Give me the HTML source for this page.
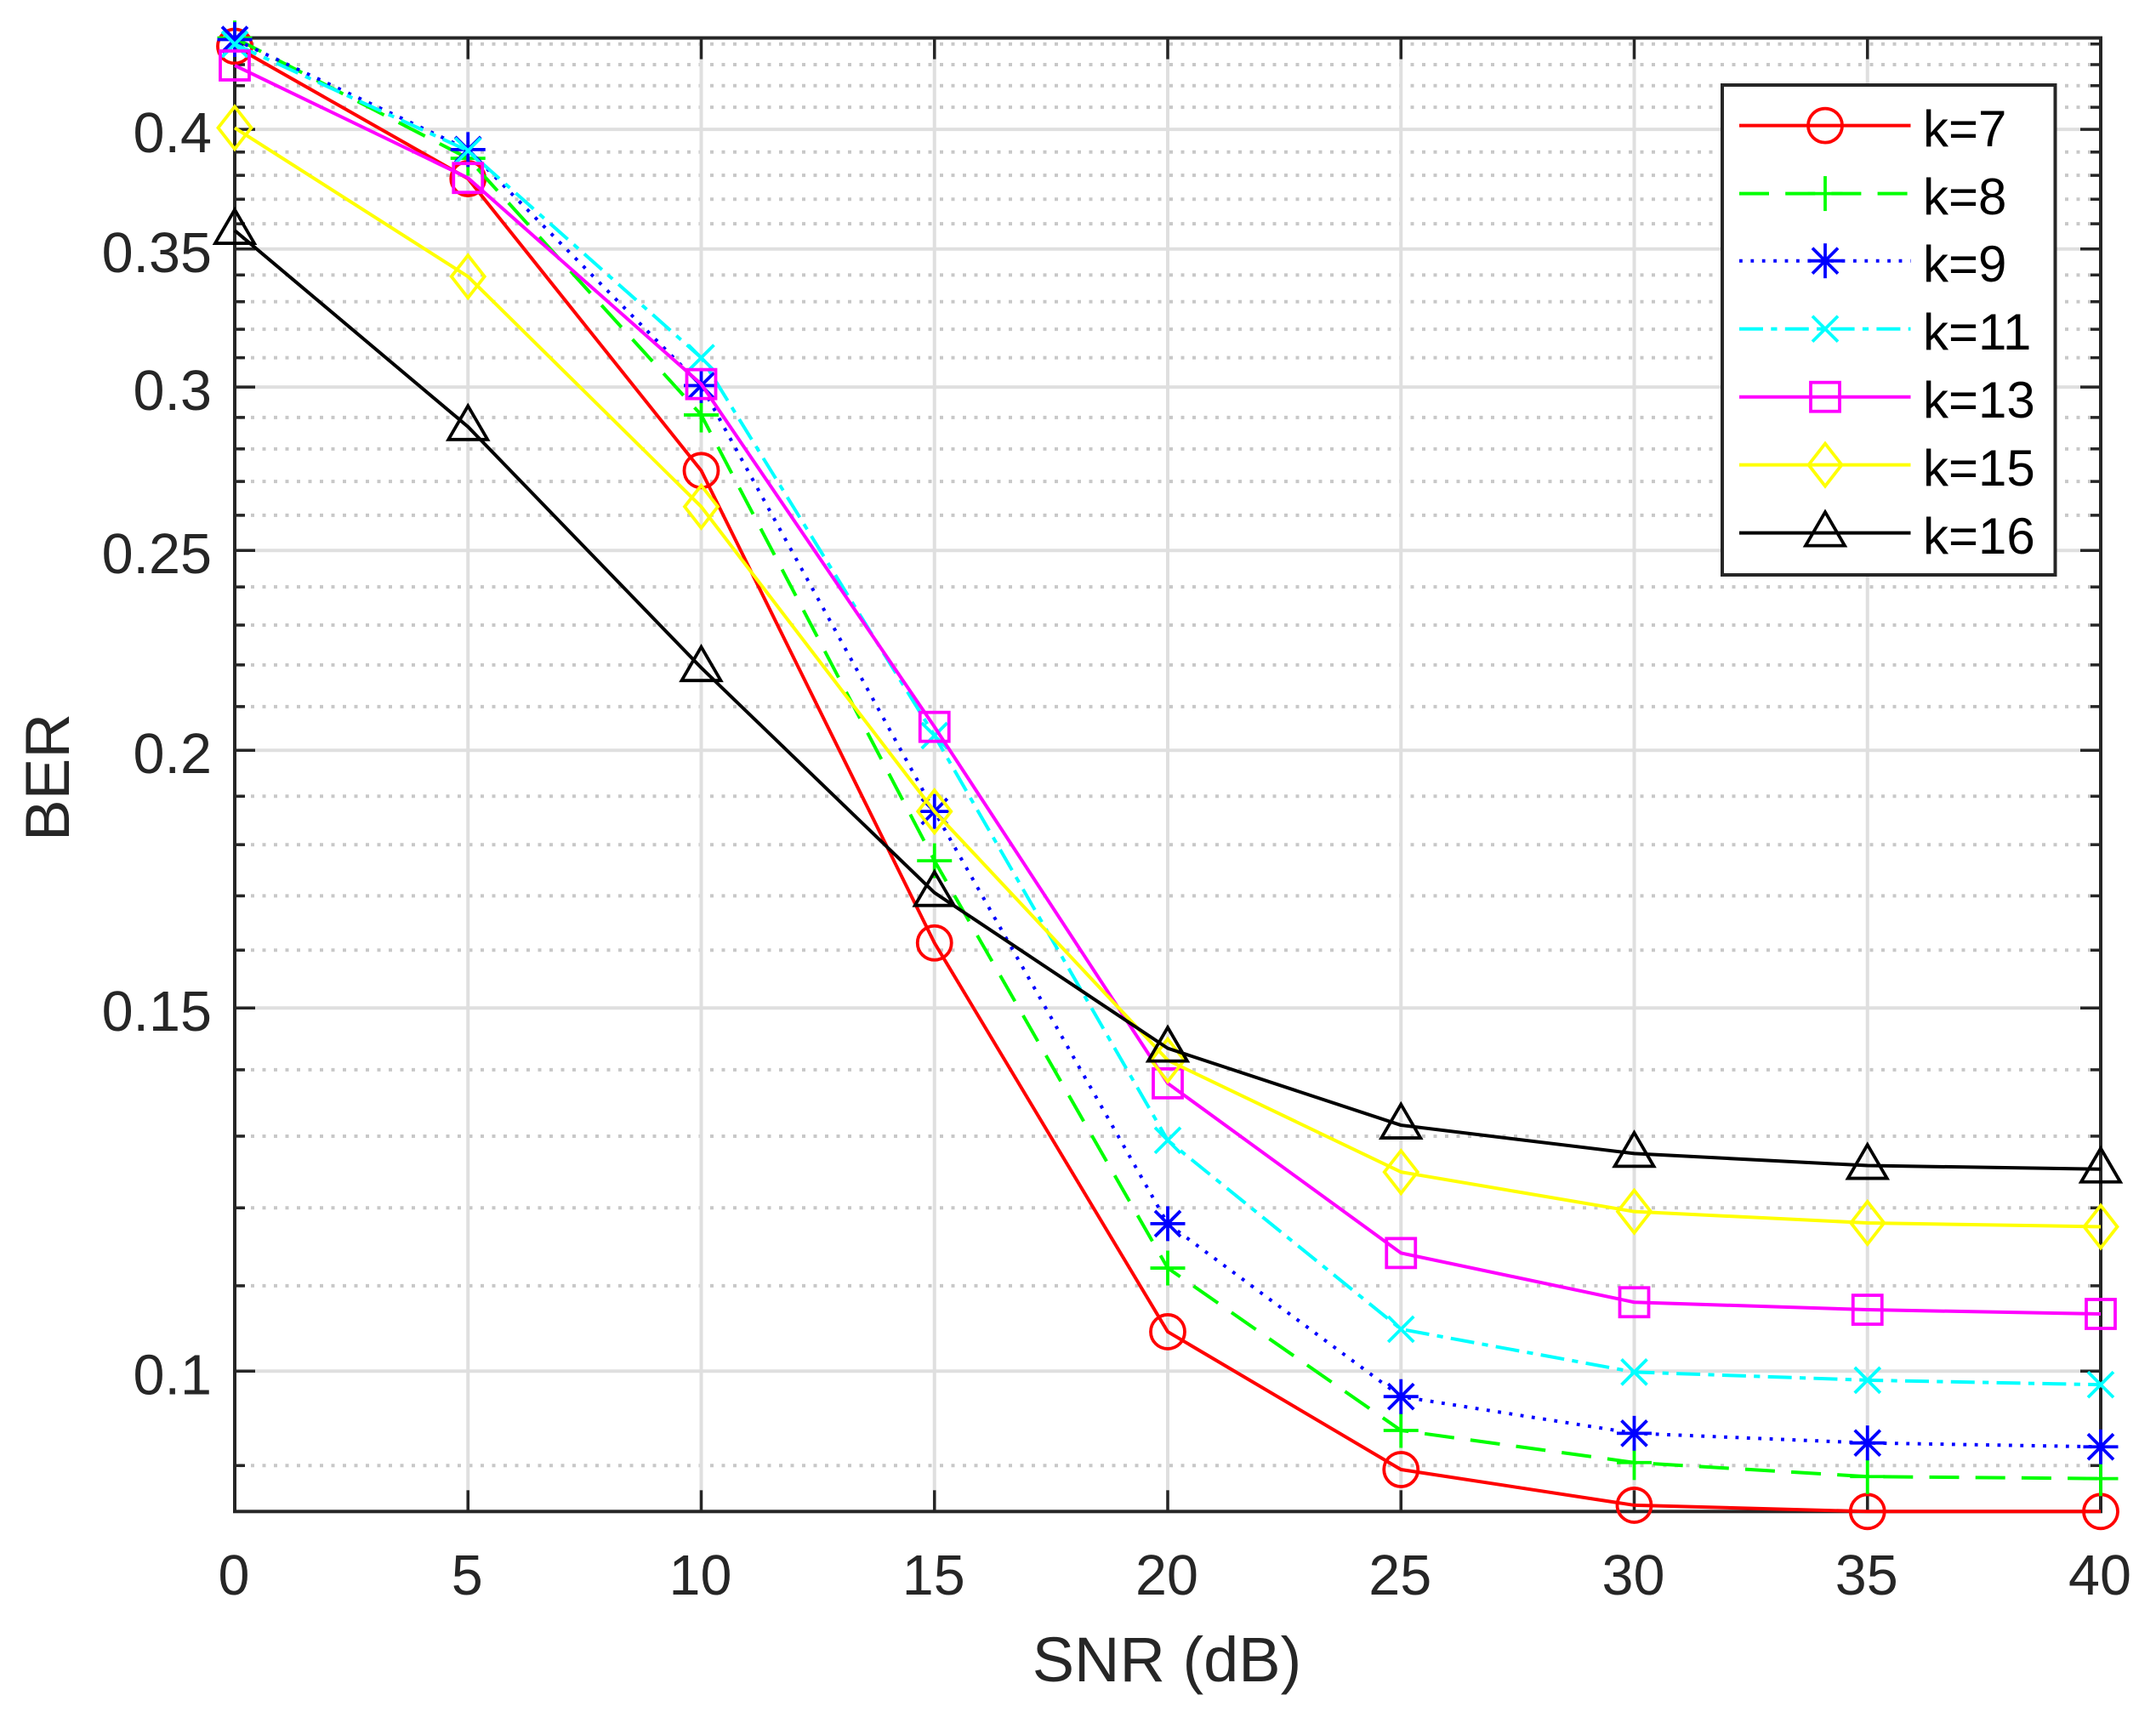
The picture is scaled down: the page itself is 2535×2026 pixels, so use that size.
<!DOCTYPE html>
<html lang="en">
<head>
<meta charset="utf-8">
<title>BER vs SNR</title>
<style>
html,body{margin:0;padding:0;background:#fff;}
svg{display:block;font-family:"Liberation Sans",Arial,sans-serif;}
</style>
</head>
<body>
<svg id="chart" xmlns="http://www.w3.org/2000/svg" width="2535" height="2026" viewBox="0 0 2535 2026">
  <rect x="0" y="0" width="2535" height="2026" fill="#fff"/>
  <g id="grid"></g>
  <g id="axes"></g>
  <g id="series"></g>
  <text x="1372" y="1977" font-size="74" fill="#262626" text-anchor="middle">SNR (dB)</text>
  <text transform="translate(81 914) rotate(-90)" font-size="73" fill="#262626" text-anchor="middle">BER</text>
  <g id="legend">
    <rect x="2025" y="100" width="391.5" height="576" fill="#fff" stroke="#262626" stroke-width="4"/>
    <g id="legend-keys"></g>
    <g font-size="60" fill="#000">
      <text x="2261" y="172">k=7</text>
      <text x="2261" y="252">k=8</text>
      <text x="2261" y="331">k=9</text>
      <text x="2261" y="411">k=11</text>
      <text x="2261" y="491">k=13</text>
      <text x="2261" y="571">k=15</text>
      <text x="2261" y="651">k=16</text>
    </g>
  </g>
</svg>
<script>
// ---- chart data ----
var snrValues = [0, 5, 10, 15, 20, 25, 30, 35, 40];
var berK7  = [0.4389, 0.3786, 0.2733, 0.1613, 0.1045, 0.0896, 0.0861, 0.0855, 0.0855];
var berK8  = [0.4430, 0.3873, 0.2908, 0.1768, 0.1122, 0.0936, 0.0903, 0.0889, 0.0887];
var berK9  = [0.4422, 0.3911, 0.3005, 0.1868, 0.1179, 0.0972, 0.0933, 0.0923, 0.0919];
var berK11 = [0.4399, 0.3906, 0.3100, 0.2033, 0.1294, 0.1048, 0.0999, 0.0990, 0.0985];
var berK13 = [0.4296, 0.3789, 0.3010, 0.2053, 0.1379, 0.1141, 0.1080, 0.1071, 0.1066];
var berK15 = [0.4007, 0.3394, 0.2625, 0.1868, 0.1415, 0.1249, 0.1195, 0.1180, 0.1175];
var berK16 = [0.3573, 0.2870, 0.2193, 0.1706, 0.1434, 0.1316, 0.1275, 0.1258, 0.1253];
var xTickLabels = ['0', '5', '10', '15', '20', '25', '30', '35', '40'];
var yTickLabels = ['0.1', '0.15', '0.2', '0.25', '0.3', '0.35', '0.4'];
var yMinorTicks = [0.09, 0.11, 0.12, 0.13, 0.14, 0.16, 0.17, 0.18, 0.19, 0.21, 0.22, 0.23, 0.24, 0.26, 0.27, 0.28, 0.29, 0.31, 0.32, 0.33, 0.34, 0.36, 0.37, 0.38, 0.39, 0.41, 0.42, 0.43, 0.44];

// ---- layout and axis functions ----
var NS = 'http://www.w3.org/2000/svg';
var plotLeft = 276, plotRight = 2470, plotTop = 44.6, plotBottom = 1777.3;
var xMin = 0, xMax = 40, yMin = 0.0855, yMax = 0.443;
function xScale(v) {
  return plotLeft + (v - xMin) / (xMax - xMin) * (plotRight - plotLeft);
}
function yScale(v) {
  return plotBottom - Math.log10(v / yMin) / Math.log10(yMax / yMin) * (plotBottom - plotTop);
}
function make(tag, attrs, parent) {
  var el = document.createElementNS(NS, tag);
  for (var k in attrs) { el.setAttribute(k, attrs[k]); }
  if (parent) { parent.appendChild(el); }
  return el;
}
var seriesList = [
  {name: 'k7',  values: berK7,  color: '#ff0000', dash: '',               marker: 'circle'},
  {name: 'k8',  values: berK8,  color: '#00ff00', dash: '35 19.2',        marker: 'plus'},
  {name: 'k9',  values: berK9,  color: '#0000ff', dash: '3.8 9.6',        marker: 'asterisk'},
  {name: 'k11', values: berK11, color: '#00ffff', dash: '28 9.3 7.2 9.3', marker: 'cross'},
  {name: 'k13', values: berK13, color: '#ff00ff', dash: '',               marker: 'square'},
  {name: 'k15', values: berK15, color: '#ffff00', dash: '',               marker: 'diamond'},
  {name: 'k16', values: berK16, color: '#000000', dash: '',               marker: 'triangle'}
];
var legendRows = [147.6, 227.6, 306.7, 386.7, 466.7, 546.6, 626.6];

function drawMarker(type, cx, cy, color, parent) {
  var g = make('g', {transform: 'translate(' + cx + ' ' + cy + ')', fill: 'none', stroke: color, 'stroke-width': 3.8, 'stroke-linejoin': 'miter', 'stroke-miterlimit': 10}, parent);
  if (type === 'circle') { make('circle', {cx: 0, cy: 0, r: 20}, g); }
  if (type === 'square') { make('rect', {x: -17, y: -17, width: 34, height: 34}, g); }
  if (type === 'diamond') { make('polygon', {points: '0,-25 19.5,0 0,25 -19.5,0'}, g); }
  if (type === 'triangle') { make('polygon', {points: '0,-24.5 23,15 -23,15'}, g); }
  if (type === 'plus' || type === 'asterisk') {
    make('line', {x1: -20.5, y1: 0, x2: 20.5, y2: 0}, g);
    make('line', {x1: 0, y1: -20.5, x2: 0, y2: 20.5}, g);
  }
  if (type === 'cross' || type === 'asterisk') {
    make('line', {x1: -15, y1: -15, x2: 15, y2: 15}, g);
    make('line', {x1: -15, y1: 15, x2: 15, y2: -15}, g);
  }
  return g;
}

// ---- grid ----
var gridGroup = document.getElementById('grid');
yMinorTicks.forEach(function (v) {
  var el = make('line', {x1: plotLeft, x2: plotRight, y1: yScale(v), y2: yScale(v), stroke: '#c8c8c8', 'stroke-width': 4, 'stroke-dasharray': '4 9.5', 'stroke-dashoffset': 8}, gridGroup);
  
  
});
yTickLabels.forEach(function (t) {
  var el = make('line', {x1: plotLeft, x2: plotRight, y1: yScale(parseFloat(t)), y2: yScale(parseFloat(t)), stroke: '#dfdfdf', 'stroke-width': 4}, gridGroup);
  
  
});
xTickLabels.forEach(function (t) {
  var el = make('line', {x1: xScale(parseFloat(t)), x2: xScale(parseFloat(t)), y1: plotTop, y2: plotBottom, stroke: '#dfdfdf', 'stroke-width': 4}, gridGroup);
  
  
});

// ---- axes, ticks, tick labels ----
var axesGroup = document.getElementById('axes');
var axisColor = '#262626';
xTickLabels.forEach(function (t) {
  var x = xScale(parseFloat(t));
  var bottomTick = make('line', {x1: x, x2: x, y1: plotBottom, y2: plotBottom - 25, stroke: axisColor, 'stroke-width': 3.5}, axesGroup);
  
  
  var topTick = make('line', {x1: x, x2: x, y1: plotTop, y2: plotTop + 25, stroke: axisColor, 'stroke-width': 3.5}, axesGroup);
  
  
  var label = make('text', {x: x - 1, y: 1875, 'font-size': 66.5, fill: axisColor, 'text-anchor': 'middle'}, axesGroup);
  label.textContent = t;
  
  
});
yTickLabels.forEach(function (t) {
  var y = yScale(parseFloat(t));
  var leftTick = make('line', {x1: plotLeft, x2: plotLeft + 24, y1: y, y2: y, stroke: axisColor, 'stroke-width': 3.5}, axesGroup);
  
  
  var rightTick = make('line', {x1: plotRight, x2: plotRight - 24, y1: y, y2: y, stroke: axisColor, 'stroke-width': 3.5}, axesGroup);
  
  
  var label = make('text', {x: 249, y: y + 27, 'font-size': 66.5, fill: axisColor, 'text-anchor': 'end'}, axesGroup);
  label.textContent = t;
  
  
});
yMinorTicks.forEach(function (v) {
  var y = yScale(v);
  var leftMinor = make('line', {x1: plotLeft, x2: plotLeft + 12, y1: y, y2: y, stroke: axisColor, 'stroke-width': 3.5}, axesGroup);
  
  
  var rightMinor = make('line', {x1: plotRight, x2: plotRight - 12, y1: y, y2: y, stroke: axisColor, 'stroke-width': 3.5}, axesGroup);
  
  
});
var frame = make('rect', {x: plotLeft, y: plotTop, width: plotRight - plotLeft, height: plotBottom - plotTop, fill: 'none', stroke: axisColor, 'stroke-width': 4}, axesGroup);



// ---- series ----
var seriesGroup = document.getElementById('series');
seriesList.forEach(function (s) {
  var group = make('g', {}, seriesGroup);
  
  
  var pts = s.values.map(function (v, i) {
    return xScale(snrValues[i]).toFixed(2) + ',' + yScale(v).toFixed(2);
  }).join(' ');
  var line = make('polyline', {points: pts, fill: 'none', stroke: s.color, 'stroke-width': 4, 'stroke-linejoin': 'round'}, group);
  if (s.dash) { line.setAttribute('stroke-dasharray', s.dash); }
  
  
  s.values.forEach(function (v, i) {
    var m = drawMarker(s.marker, xScale(snrValues[i]), yScale(v), s.color, group);
    
    
  });
});

// ---- legend keys ----
var legendKeys = document.getElementById('legend-keys');
seriesList.forEach(function (s, i) {
  var y = legendRows[i];
  var keyLine = make('line', {x1: 2045, x2: 2246.5, y1: y, y2: y, stroke: s.color, 'stroke-width': 4}, legendKeys);
  if (s.dash) { keyLine.setAttribute('stroke-dasharray', s.dash); }
  
  
  var keyMarker = drawMarker(s.marker, 2146, y, s.color, legendKeys);
  
  
});
</script>
</body>
</html>
